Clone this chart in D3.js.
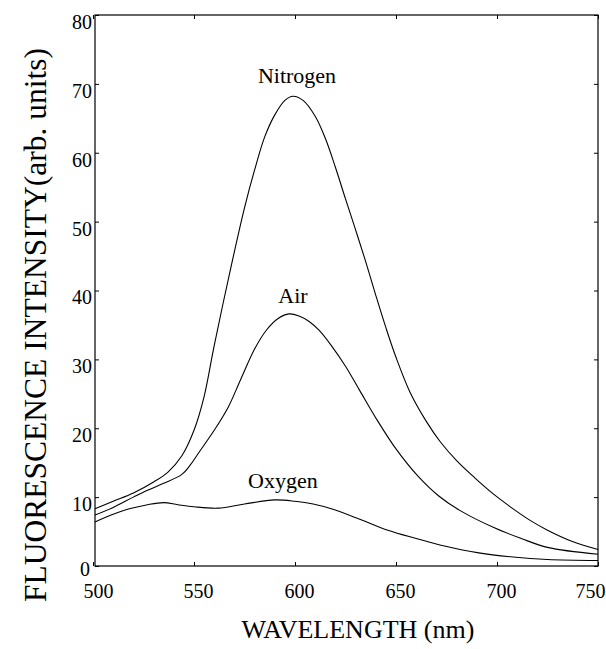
<!DOCTYPE html>
<html>
<head>
<meta charset="utf-8">
<script src="https://cdn.jsdelivr.net/npm/d3@7"></script>
<style>
  html, body { margin: 0; padding: 0; background: #fff; }
  text { font-family: "Liberation Serif", "DejaVu Serif", serif; fill: #000; }
</style>
</head>
<body>
<svg id="chart" width="606" height="649"></svg>
<script>
// ---- data ----
const xTicks = [500, 550, 600, 650, 700, 750];
const yTicks = [0, 10, 20, 30, 40, 50, 60, 70, 80];

const nitrogenWl  = [501, 510, 520, 530, 537, 544, 550, 555, 560, 568, 575, 580, 585, 590, 595, 599, 604, 610, 615, 620, 625, 630, 635, 640, 645, 650, 657, 665, 672, 680, 689, 698, 708, 716, 725, 737, 750];
const nitrogenVal = [8.3, 9.4, 10.6, 12.2, 13.6, 16.0, 19.7, 24.6, 32.0, 43.0, 52.0, 57.5, 62.3, 65.5, 67.6, 68.2, 67.6, 65.3, 62.1, 57.9, 53.3, 48.8, 44.2, 39.3, 34.6, 30.3, 25.2, 21.0, 18.0, 15.3, 12.8, 10.5, 8.3, 6.7, 5.2, 3.6, 2.4];

const airWl  = [501, 510, 520, 527, 535, 544, 548, 552, 560, 567, 573, 580, 586, 592, 597, 602, 607, 612, 618, 625, 632, 640, 650, 661, 671, 682, 699, 712, 725, 750];
const airVal = [7.4, 8.5, 10.0, 11.0, 12.0, 13.3, 14.6, 16.3, 19.7, 23.1, 27.0, 31.5, 34.3, 36.0, 36.6, 36.3, 35.5, 34.2, 32.0, 29.0, 25.5, 21.5, 17.0, 13.0, 10.2, 8.0, 5.5, 4.0, 2.7, 1.7];

const oxygenWl  = [501, 510, 518, 527, 535, 542, 550, 562, 575, 590, 600, 609, 618, 632, 646, 660, 674, 691, 708, 725, 750];
const oxygenVal = [6.4, 7.5, 8.3, 8.9, 9.2, 8.9, 8.6, 8.4, 9.0, 9.6, 9.4, 9.0, 8.3, 6.8, 5.2, 4.0, 2.9, 1.9, 1.3, 0.95, 0.8];

const seriesNames = ["Nitrogen", "Air", "Oxygen"];

// ---- layout ----
const svg = d3.select("#chart");
const mLeft = 95, mRight = 598, mTop = 15, mBottom = 566;

const x = d3.scaleLinear().domain([500, 750]).range([93, 598]);
const y = d3.scaleLinear().domain([0, 80]).range([mBottom, mTop]);

// frame
svg.append("rect")
  .attr("x", mLeft).attr("y", mTop)
  .attr("width", mRight - mLeft).attr("height", mBottom - mTop)
  .attr("fill", "none").attr("stroke", "#000").attr("stroke-width", 1.2);

// axes (inward ticks)
const fs = 20;
const gx = svg.append("g").attr("transform", `translate(0,${mBottom})`)
  .call(d3.axisBottom(x).tickValues(xTicks).tickSize(-4).tickPadding(0).tickFormat(d3.format("d")));
gx.select(".domain").remove();
gx.selectAll("text").attr("font-size", fs).attr("dy", null).attr("y", 32)
  .attr("dx", d => d === 750 ? -8 : (d === 500 ? 5 : 4))
  .style("font-family", "Liberation Serif");

const gxt = svg.append("g").attr("transform", `translate(0,${mTop})`)
  .call(d3.axisTop(x).tickValues(xTicks).tickSize(-4).tickFormat(""));
gxt.select(".domain").remove();

const gy = svg.append("g").attr("transform", `translate(${mLeft},0)`)
  .call(d3.axisLeft(y).tickValues(yTicks).tickSize(-4).tickPadding(3));
gy.select(".domain").remove();
gy.selectAll("text").attr("font-size", fs).attr("dy", "0.32em")
  .attr("y", d => d === 0 ? 3 : 7)
  .attr("dx", d => d === 0 ? -2 : 0)
  .style("font-family", "Liberation Serif");

const gyr = svg.append("g").attr("transform", `translate(${mRight},0)`)
  .call(d3.axisRight(y).tickValues(yTicks).tickSize(-4).tickFormat(""));
gyr.select(".domain").remove();

svg.selectAll(".tick line").attr("stroke", "#000");

// curves
const line = d3.line().x(d => x(d[0])).y(d => y(d[1])).curve(d3.curveCatmullRom.alpha(0.5));
const data = [
  d3.zip(nitrogenWl, nitrogenVal),
  d3.zip(airWl, airVal),
  d3.zip(oxygenWl, oxygenVal)
];
svg.append("g").selectAll("path").data(data).join("path")
  .attr("d", line)
  .attr("fill", "none").attr("stroke", "#000").attr("stroke-width", 1.1);

// series labels
const labelPos = [[601, 70.1], [599, 38.2], [594, 11.3]];
svg.append("g").selectAll("text").data(seriesNames).join("text")
  .attr("x", (d, i) => x(labelPos[i][0]))
  .attr("y", (d, i) => y(labelPos[i][1]))
  .attr("text-anchor", "middle")
  .attr("font-size", 22)
  .text(d => d);

// axis titles
svg.append("text")
  .attr("x", 358).attr("y", 638)
  .attr("text-anchor", "middle")
  .attr("font-size", 26)
  .text("WAVELENGTH (nm)");

svg.append("text")
  .attr("transform", "translate(46,325) rotate(-90)")
  .attr("text-anchor", "middle")
  .attr("font-size", 31.5)
  .text("FLUORESCENCE INTENSITY(arb. units)");
</script>
</body>
</html>
